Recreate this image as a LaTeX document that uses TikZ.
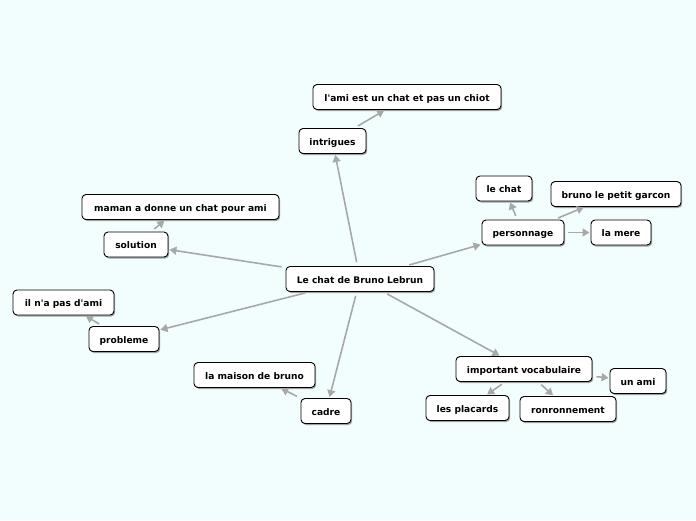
\documentclass[tikz,border=0pt]{standalone}
\usepackage{fontspec}
\setmainfont{DejaVu Sans}
\usetikzlibrary{shadows,arrows.meta}
\definecolor{bgc}{HTML}{F2FEFE}
\definecolor{edgec}{HTML}{A8A8A8}
\begin{document}
\begin{tikzpicture}[x=1pt,y=-1pt,
  box/.style={draw=black, line width=0.9pt, fill=white, rounded corners=4pt,
    font=\bfseries\fontsize{9.1}{10}\selectfont, text height=8pt, text depth=0pt,
    minimum height=25pt, inner xsep=0pt,
    drop shadow={shadow xshift=1.2pt, shadow yshift=-1.5pt, fill=black!45, opacity=0.8}},
  link/.style={draw=edgec, line width=1.6pt, -{Triangle[length=7pt,width=8pt]}, shorten <=4pt, shorten >=1pt}]
\fill[bgc] (0,0) rectangle (696,520);
\useasboundingbox (0,0) rectangle (696,520);
\node[box, minimum width=148pt] (c) at (360,279) {Le chat de Bruno Lebrun};
\node[box, minimum width=67pt] (intr) at (332.5,141) {intrigues};
\node[box, minimum width=188pt] (ami1) at (407,97) {l\textquotesingle ami est un chat et pas un chiot};
\node[box, minimum width=197pt] (maman) at (180.5,207) {maman a donne un chat pour ami};
\node[box, minimum width=64pt] (sol) at (136,244.5) {solution};
\node[box, minimum width=101pt] (ilna) at (63.5,302.5) {il n\textquotesingle a pas d\textquotesingle ami};
\node[box, minimum width=70pt] (prob) at (124,339) {probleme};
\node[box, minimum width=121pt] (mais) at (254.5,375) {la maison de bruno};
\node[box, minimum width=50pt] (cadre) at (326,411) {cadre};
\node[box, minimum width=82pt] (pers) at (523,232.5) {personnage};
\node[box, minimum width=56pt] (lechat) at (504,188.5) {le chat};
\node[box, minimum width=130pt] (bruno) at (616,194) {bruno le petit garcon};
\node[box, minimum width=60pt] (mere) at (621,232.5) {la mere};
\node[box, minimum width=136pt] (vocab) at (524,369) {important vocabulaire};
\node[box, minimum width=56pt] (unami) at (638,381) {un ami};
\node[box, minimum width=83pt] (plac) at (467.5,408) {les placards};
\node[box, minimum width=96pt] (ronr) at (568,409) {ronronnement};
\draw[link] (c) -- (intr);
\draw[link] (c) -- (sol);
\draw[link] (c) -- (prob);
\draw[link] (c) -- (cadre);
\draw[link] (c) -- (pers);
\draw[link] (c) -- (vocab);
\draw[link] (intr) -- (ami1);
\draw[link] (sol) -- (maman);
\draw[link] (prob) -- (ilna);
\draw[link] (cadre) -- (mais);
\draw[link] (pers) -- (lechat);
\draw[link] (pers) -- (bruno);
\draw[link] (pers) -- (mere);
\draw[link] (vocab) -- (unami);
\draw[link] (vocab) -- (plac);
\draw[link] (vocab) -- (ronr);
\end{tikzpicture}
\end{document}
